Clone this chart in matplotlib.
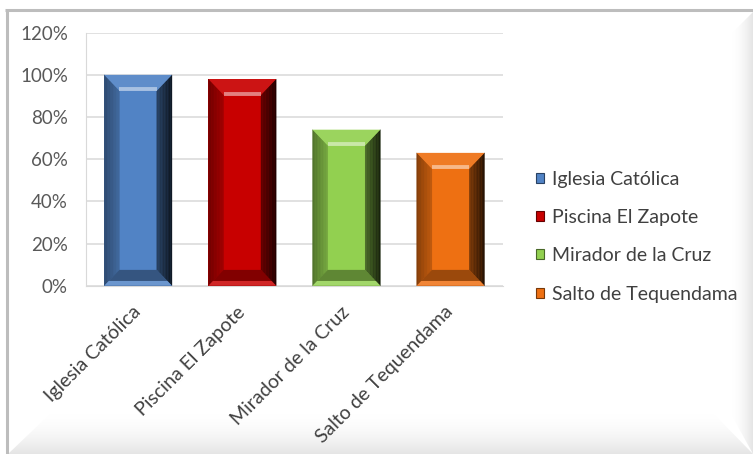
import numpy as np
import matplotlib.pyplot as plt
from matplotlib.patches import Polygon, Patch
from matplotlib.colors import to_rgb

plt.rcParams['font.family'] = ['Lato', 'DejaVu Sans']

lugares = ['Iglesia Católica', 'Piscina El Zapote', 'Mirador de la Cruz', 'Salto de Tequendama']
porcentajes = [100, 98, 74, 63]
colores = ['#5183c5', '#c80000', '#92d050', '#ee7012']
yticks = [0, 20, 40, 60, 80, 100, 120]

W, H = 753, 454
fig = plt.figure(figsize=(W / 100, H / 100), dpi=100)

# frame with soft inner shading on right and bottom edges
bg = fig.add_axes([0, 0, 1, 1], zorder=-5)
bg.set_xlim(0, W)
bg.set_ylim(H, 0)
bg.axis('off')
bg.plot([5, W], [10, 10], color='#bdbdbd', lw=2.2, solid_capstyle='butt')
bg.plot([7, 7], [10, H], color='#bdbdbd', lw=2.2, solid_capstyle='butt')

grad = np.linspace(0, 1, 64)
gray = np.array([0.9, 0.9, 0.9])
img_v = np.ones((64, 2, 4))
img_v[:, :, :3] = gray
img_v[:, :, 3] = (grad ** 1.8)[:, None]
im = bg.imshow(img_v, extent=[8, W, H, 412], aspect='auto', interpolation='bilinear')
clip = Polygon([(8, H), (52, 412), (712, 412), (W, H)], closed=True, transform=bg.transData)
im.set_clip_path(clip)

img_h = np.ones((2, 64, 4))
img_h[:, :, :3] = gray
img_h[:, :, 3] = (grad ** 1.8)[None, :]
im2 = bg.imshow(img_h, extent=[731, W, H, 12], aspect='auto', interpolation='bilinear')
clip2 = Polygon([(W, 12), (731, 34), (731, 414), (W, H)], closed=True, transform=bg.transData)
im2.set_clip_path(clip2)

ax = fig.add_axes([86 / W, 1 - 285.7 / H, (502.7 - 86) / W, (285.7 - 32.7) / H])
ax.set_xlim(-0.5, 3.5)
ax.set_ylim(0, 120)
ax.set_yticks(yticks)
ax.set_yticklabels([f'{v}%' for v in yticks])
ax.grid(axis='y', color='#d9d9d9', lw=1.1)
ax.set_axisbelow(True)
for s in ['top', 'right']:
    ax.spines[s].set_visible(False)
ax.spines['left'].set_color('#d9d9d9')
ax.spines['bottom'].set_color('#d9d9d9')
ax.tick_params(axis='y', length=0, labelsize=13.5, labelcolor='#595959', pad=13)

x = np.arange(len(lugares))
bw = 0.65
bars = ax.bar(x, porcentajes, width=bw, color=colores, zorder=2)


def mix(c, f, target=(0, 0, 0)):
    c = np.array(to_rgb(c))
    return tuple(c * (1 - f) + np.array(target) * f)


def side_strips(x_out, x_in, y_bot_out, y_bot_in, y_top_out, y_top_in, c_out, c_in, n=10):
    # vertical gradient strips along one bevelled side of a bar
    for i in range(n):
        t0, t1 = i / n, (i + 1) / n
        xa = x_out + (x_in - x_out) * t0
        xb = x_out + (x_in - x_out) * t1
        ba = y_bot_out + (y_bot_in - y_bot_out) * t0
        bb = y_bot_out + (y_bot_in - y_bot_out) * t1
        ta = y_top_out + (y_top_in - y_top_out) * t0
        tb = y_top_out + (y_top_in - y_top_out) * t1
        tm = (t0 + t1) / 2
        col = tuple(np.array(c_out) * (1 - tm) + np.array(c_in) * tm)
        ax.add_patch(Polygon([(xa, ba), (xa, ta), (xb, tb), (xb, bb)], closed=True,
                             fc=col, ec=col, lw=0.3, zorder=3))


dx, dy = 0.145, 7.5
for xi, v, c in zip(x, porcentajes, colores):
    x0, x1 = xi - bw / 2, xi + bw / 2
    # left and right bevels
    side_strips(x0, x0 + dx, 0, dy, v, v - dy, mix(c, 0.45), mix(c, 0.2))
    side_strips(x1, x1 - dx, 0, dy, v, v - dy, mix(c, 0.85), mix(c, 0.5))
    # top bevel with a bright rim
    ax.add_patch(Polygon([(x0, v), (x1, v), (x1 - dx, v - dy), (x0 + dx, v - dy)],
                         closed=True, fc=mix(c, 0.08, (1, 1, 1)), ec='none', zorder=3))
    ax.plot([x0 + dx, x1 - dx], [v - dy + 0.6, v - dy + 0.6], color=mix(c, 0.5, (1, 1, 1)),
            lw=2.8, solid_capstyle='butt', zorder=4)
    # bottom bevel
    ax.add_patch(Polygon([(x0, 0), (x1, 0), (x1 - dx, dy), (x0 + dx, dy)],
                         closed=True, fc=mix(c, 0.35), ec='none', zorder=3))
    ax.add_patch(Polygon([(x0, 0), (x1, 0), (x1 - dx * 0.3, dy * 0.3), (x0 + dx * 0.3, dy * 0.3)],
                         closed=True, fc=mix(c, 0.15, (1, 1, 1)), ec='none', zorder=3))

ax.set_xticks(x)
ax.set_xticklabels(lugares, rotation=45, ha='right', va='center', rotation_mode='anchor',
                   color='#404040', fontsize=14)
ax.tick_params(axis='x', length=0, pad=17)

handles = [Patch(fc=c, ec=mix(c, 0.5), lw=0.8) for c in colores]
fig.legend(handles, lugares, loc='upper left', bbox_to_anchor=(536 / W, 1 - 171 / H),
           frameon=False, fontsize=14, handlelength=0.42, handleheight=0.42,
           handletextpad=0.4, labelspacing=1.09, borderpad=0, borderaxespad=0,
           labelcolor='#404040')

fig.savefig('out.png', dpi=100)
